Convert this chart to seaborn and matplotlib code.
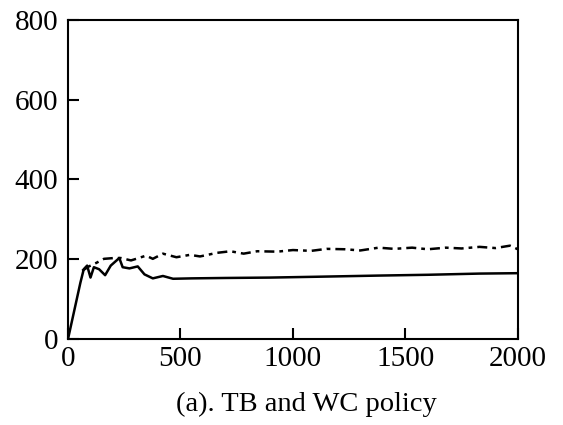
import numpy as np
import pandas as pd
import matplotlib
matplotlib.use("Agg")
import matplotlib.pyplot as plt
import seaborn as sns

# solid curve
solid_x = [0, 55, 70, 85, 100, 115, 138, 165, 190, 228, 243, 273, 310, 340,
           377, 422, 467, 550, 700, 900, 1100, 1381, 1600, 1830, 2000]
solid_y = [0, 141, 175, 184, 154, 180, 175, 160, 184, 203, 180, 177, 182, 162,
           152, 158, 151, 152, 153, 154, 156, 159, 161, 164, 165]

# dash-dot curve
dash_x = [63, 93, 123, 160, 205, 235, 280, 303, 347, 377, 422, 482, 542, 587,
          662, 722, 781, 841, 931, 1000, 1081, 1150, 1231, 1300, 1381, 1450,
          1530, 1600, 1680, 1750, 1830, 1900, 1965, 2000]
dash_y = [171, 182, 190, 201, 203, 203, 197, 201, 209, 201, 214, 205, 211, 207,
          216, 220, 214, 220, 219, 223, 221, 226, 225, 222, 229, 226,
          229, 225, 229, 227, 231, 228, 234, 225]

x_ticks = [0, 500, 1000, 1500, 2000]
y_ticks = [0, 200, 400, 600, 800]
caption = "(a). TB and WC policy"

sns.set_style("white")
plt.rcParams['font.family'] = ['Liberation Serif', 'DejaVu Serif']

fig = plt.figure(figsize=(5.63, 4.25), dpi=100)
ax = fig.add_axes([0.1208, 0.2024, 0.799, 0.7506])

sns.lineplot(x=solid_x, y=solid_y, ax=ax, color="black", lw=1.8, sort=False)
sns.lineplot(x=dash_x, y=dash_y, ax=ax, color="black", lw=1.8, sort=False,
             linestyle=(0, (4, 2, 1.5, 2)))

ax.set_xlim(0, 2000)
ax.set_ylim(0, 800)
ax.set_xticks(x_ticks)
ax.set_yticks(y_ticks)
ax.tick_params(direction="in", length=8, width=1.5, labelsize=21,
               top=False, right=False, bottom=True, left=True,
               colors="black", labelcolor="black")
ax.tick_params(axis="y", pad=7)
ax.tick_params(axis="x", pad=5)
for s in ax.spines.values():
    s.set_color("black")
    s.set_linewidth(1.5)

fig.text(0.5435, 0.034, caption, ha="center", va="baseline", fontsize=20.5,
         color="black")

fig.savefig("out.png", dpi=100)
